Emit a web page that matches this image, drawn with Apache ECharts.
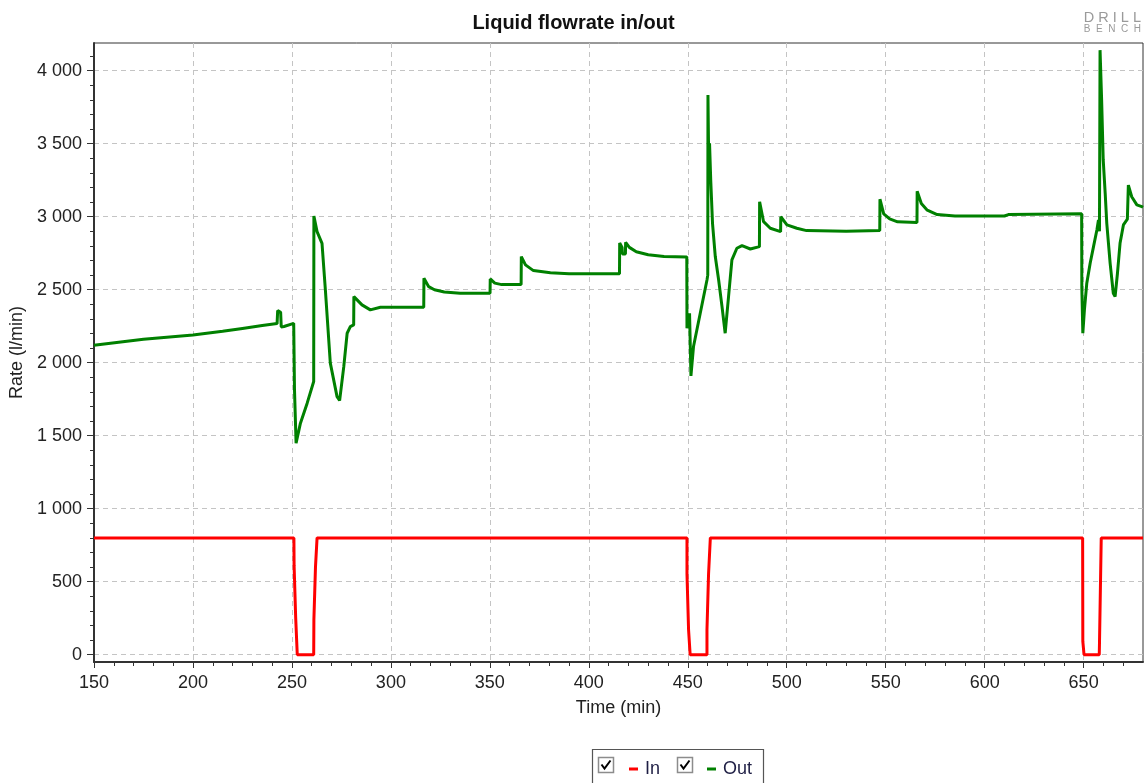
<!DOCTYPE html>
<html>
<head>
<meta charset="utf-8">
<script src="https://cdn.jsdelivr.net/npm/echarts@6/dist/echarts.min.js"></script>
<style>
html,body{margin:0;padding:0;background:#ffffff;}
#chart{width:1147px;height:783px;}
</style>
</head>
<body>
<div id="chart"></div>
<script>
// ---- tick values ----
const xMajorTicks = [150, 200, 250, 300, 350, 400, 450, 500, 550, 600, 650];
const xMinorTicks = [160, 170, 180, 190, 210, 220, 230, 240, 260, 270, 280, 290, 310, 320, 330, 340,
  360, 370, 380, 390, 410, 420, 430, 440, 460, 470, 480, 490, 510, 520, 530, 540,
  560, 570, 580, 590, 610, 620, 630, 640, 660, 670];
const yMajorTicks = [0, 500, 1000, 1500, 2000, 2500, 3000, 3500, 4000];
const yMinorTicks = [100, 200, 300, 400, 600, 700, 800, 900, 1100, 1200, 1300, 1400,
  1600, 1700, 1800, 1900, 2100, 2200, 2300, 2400, 2600, 2700, 2800, 2900,
  3100, 3200, 3300, 3400, 3600, 3700, 3800, 3900, 4100];

// ---- series: In ----
const inTime = [150, 251.0, 251.1, 251.8, 251.9, 252.6, 252.7, 261.0, 261.1, 261.8, 261.9, 262.6, 262.7,
  449.6, 449.6, 450.4, 450.4, 451.2, 451.2, 459.7, 459.7, 460.5, 460.5, 461.4, 461.4,
  649.5, 649.6, 650.1, 650.2, 657.9, 658.0, 658.8, 658.9, 680];
const inRate = [800, 800, 610, 600, 253, 240, 0, 0, 240, 253, 600, 610, 800,
  800, 553, 553, 171, 171, 0, 0, 171, 171, 553, 553, 800,
  800, 91, 91, 0, 0, 68, 68, 800, 800];

// ---- series: Out ----
const outTime = [150, 175, 200, 215, 225, 235, 242.5, 242.8, 244.3, 244.6, 246, 250.9,
  251.3, 252.1, 254.3, 257.7, 261.0, 261.1, 262.7, 265.2, 266.9, 269.4, 272.8, 274.1,
  276.2, 277.9, 279.5, 281.2, 281.3, 285.4, 289.6, 294.7, 316.6, 316.7, 319.1, 322,
  327, 335, 350.1, 350.2, 352.5, 356, 365.8, 365.9, 368, 372, 380.6, 390,
  415.5, 415.6, 416.8, 417.0, 418.5, 418.6, 420.5, 424, 430, 438, 449.5,
  449.6, 450.6, 450.9, 451.4, 451.6, 452.9, 456.3, 459.7, 460.1, 460.2, 460.7, 461.0,
  461.6, 462.5, 463.9, 465.6, 467.3, 468.9, 470.6, 472.3, 474.8, 477.4, 481.6, 486.2,
  486.3, 488.3, 491.7, 496.9, 497.0, 500.1, 505.1, 510, 530, 547.0, 547.1, 549, 552,
  556, 565.8, 565.9, 568, 571, 576, 585, 610, 612, 649.0, 649.1, 649.6, 650.4, 651.6,
  653.3, 655, 656.7, 657.5, 658.0, 658.3, 659.1, 659.9, 660.9, 661.7, 663.4, 665,
  665.9, 667.1, 668.4, 670.1, 672.1, 672.6, 674.3, 676.9, 679.4, 680];
const outRate = [2120, 2160, 2190, 2215, 2235, 2255, 2268, 2357, 2345, 2245, 2248, 2270,
  1814, 1449, 1586, 1723, 1871, 3005, 2898, 2818, 2499, 1997, 1768, 1741,
  1973, 2202, 2247, 2259, 2453, 2396, 2362, 2380, 2380, 2578, 2521, 2500,
  2485, 2476, 2476, 2574, 2545, 2535, 2535, 2727, 2670, 2631, 2617, 2610,
  2610, 2820, 2790, 2745, 2745, 2825, 2790, 2760, 2740, 2728, 2725,
  2236, 2236, 2339, 2339, 1910, 2111, 2339, 2567, 2600, 3834, 3229, 3503,
  3250, 2955, 2727, 2567, 2384, 2202, 2453, 2704, 2784, 2802, 2779, 2795,
  3103, 2966, 2921, 2898, 3000, 2944, 2921, 2905, 2900, 2905, 3120, 3020, 2985,
  2965, 2960, 3175, 3090, 3045, 3015, 3005, 3005, 3015, 3020, 2510, 2202, 2362, 2545,
  2681, 2795, 2909, 2978, 2900, 4141, 3799, 3389, 3160, 2955, 2681, 2476,
  2453, 2613, 2818, 2944, 2983, 3217, 3137, 3081, 3069, 3065];

const seriesNames = ['In', 'Out'];
const seriesColors = ['#ff0000', '#008000'];

const inData = inTime.map((t, i) => [t, inRate[i]]);
const outData = outTime.map((t, i) => [t, outRate[i]]);

const FONT = "'Liberation Sans', Arial, sans-serif";
const AX = '#333333';

function fmtThousands(v) {
  if (v >= 1000) {
    const k = Math.floor(v / 1000);
    const r = String(v % 1000).padStart(3, '0');
    return k + ' ' + r;
  }
  return String(v);
}

const chart = echarts.init(document.getElementById('chart'), null, {renderer: 'canvas'});

const gridRect = {left: 94, right: 4, top: 43, bottom: 121};

const option = {
  animation: false,
  backgroundColor: '#ffffff',
  textStyle: {fontFamily: FONT},
  title: {
    text: 'Liquid flowrate in/out',
    left: 'center',
    top: 8,
    textStyle: {fontFamily: FONT, fontSize: 20, fontWeight: 'bold', color: '#111111'}
  },
  legend: {
    data: seriesNames,
    left: 624,
    top: 755,
    icon: 'rect',
    itemWidth: 9,
    itemHeight: 3,
    itemGap: 47,
    selectedMode: false,
    textStyle: {fontFamily: FONT, fontSize: 18, color: '#1e1e44', padding: [0, 0, 0, 2]}
  },
  grid: [
    Object.assign({show: true, borderColor: AX, borderWidth: 1, backgroundColor: 'transparent'}, gridRect),
    Object.assign({show: false}, gridRect)
  ],
  xAxis: [
    {
      type: 'value',
      gridIndex: 0,
      min: 150,
      max: 680,
      name: 'Time (min)',
      nameLocation: 'middle',
      nameGap: 37,
      nameTextStyle: {fontFamily: FONT, fontSize: 18, color: '#222222'},
      axisLine: {show: true, onZero: false, lineStyle: {color: AX, width: 2}},
      axisTick: {show: true, customValues: xMajorTicks, length: 6, lineStyle: {color: AX, width: 1}},
      axisLabel: {customValues: xMajorTicks, margin: 12, fontFamily: FONT, fontSize: 18, color: '#222222'},
      splitLine: {show: true, lineStyle: {color: '#c4c4c4', width: 1, type: [5, 4]}}
    },
    {
      type: 'value',
      gridIndex: 1,
      position: 'bottom',
      min: 150,
      max: 680,
      axisLine: {show: false, onZero: false},
      axisLabel: {show: false},
      splitLine: {show: false},
      axisTick: {show: true, inside: false, customValues: xMinorTicks, length: 4, lineStyle: {color: AX, width: 1}}
    }
  ],
  yAxis: [
    {
      type: 'value',
      gridIndex: 0,
      min: -50,
      max: 4190,
      name: 'Rate (l/min)',
      nameLocation: 'middle',
      nameGap: 67,
      nameRotate: 90,
      nameTextStyle: {fontFamily: FONT, fontSize: 18, color: '#222222'},
      axisLine: {show: true, onZero: false, lineStyle: {color: AX, width: 2}},
      axisTick: {show: true, customValues: yMajorTicks, length: 7, lineStyle: {color: AX, width: 1}},
      axisLabel: {customValues: yMajorTicks, margin: 12, fontFamily: FONT, fontSize: 18, color: '#222222',
        formatter: fmtThousands},
      splitLine: {show: true, lineStyle: {color: '#c4c4c4', width: 1, type: [5, 4]}}
    },
    {
      type: 'value',
      gridIndex: 1,
      position: 'left',
      min: -50,
      max: 4190,
      axisLine: {show: false, onZero: false},
      axisLabel: {show: false},
      splitLine: {show: false},
      axisTick: {show: true, inside: false, customValues: yMinorTicks, length: 4, lineStyle: {color: AX, width: 1}}
    }
  ],
  series: [
    {
      name: seriesNames[0],
      type: 'line',
      xAxisIndex: 0,
      yAxisIndex: 0,
      data: inData,
      showSymbol: false,
      symbol: 'none',
      color: seriesColors[0],
      lineStyle: {color: seriesColors[0], width: 3},
      z: 3
    },
    {
      name: seriesNames[1],
      type: 'line',
      xAxisIndex: 0,
      yAxisIndex: 0,
      data: outData,
      showSymbol: false,
      symbol: 'none',
      color: seriesColors[1],
      lineStyle: {color: seriesColors[1], width: 3},
      z: 4
    }
  ],
  graphic: [
    // DrillBench logo
    {type: 'text', right: 6, top: 10, style: {text: 'D R I L L', fontFamily: FONT,
      fontSize: 14.5, fill: '#9a9a9a'}},
    {type: 'text', right: 6, top: 24, style: {text: 'B  E  N  C  H', fontFamily: FONT,
      fontSize: 10, fill: '#9a9a9a'}},
    // legend frame
    {type: 'rect', shape: {x: 592.5, y: 749.5, width: 171, height: 60},
      style: {fill: 'none', stroke: '#555555', lineWidth: 1.2}, z: 0},
    // checkbox 1
    {type: 'rect', shape: {x: 598.5, y: 757.5, width: 15, height: 15},
      style: {fill: '#ffffff', stroke: '#8c8c8c', lineWidth: 1.5}},
    {type: 'polyline', shape: {points: [[601.5, 764.5], [604.5, 768.5], [610.5, 760.5]]},
      style: {stroke: '#000000', lineWidth: 2, fill: 'none'}},
    // checkbox 2
    {type: 'rect', shape: {x: 677.5, y: 757.5, width: 15, height: 15},
      style: {fill: '#ffffff', stroke: '#8c8c8c', lineWidth: 1.5}},
    {type: 'polyline', shape: {points: [[680.5, 764.5], [683.5, 768.5], [689.5, 760.5]]},
      style: {stroke: '#000000', lineWidth: 2, fill: 'none'}}
  ]
};

chart.setOption(option);
</script>
</body>
</html>
